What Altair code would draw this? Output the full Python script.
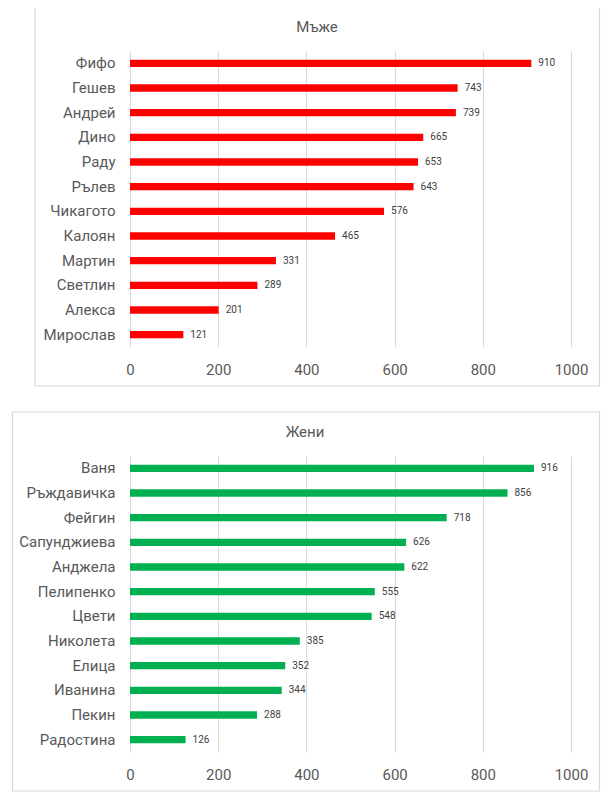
import altair as alt
import pandas as pd

men_names = ["Фифо", "Гешев", "Андрей", "Дино", "Раду", "Рълев", "Чикагото",
             "Калоян", "Мартин", "Светлин", "Алекса", "Мирослав"]
men_values = [910, 743, 739, 665, 653, 643, 576, 465, 331, 289, 201, 121]

women_names = ["Ваня", "Ръждавичка", "Фейгин", "Сапунджиева", "Анджела", "Пелипенко",
               "Цвети", "Николета", "Елица", "Иванина", "Пекин", "Радостина"]
women_values = [916, 856, 718, 626, 622, 555, 548, 385, 352, 344, 288, 126]

x_ticks = [0, 200, 400, 600, 800, 1000]

W, H = 441, 296
FONT = "Roboto"
GRAY = "#595959"


def panel(names, values, title, color, frame_left, title_x):
    df = pd.DataFrame({"name": names, "value": values})
    base = alt.Chart(df)
    x = alt.X(
        "value:Q",
        scale=alt.Scale(domain=[0, 1000], nice=False),
        axis=alt.Axis(values=x_ticks, title=None, ticks=False, domain=False,
                      grid=True, gridColor="#D9D9D9", labelPadding=15,
                      labelFontSize=15, labelColor=GRAY, labelFont=FONT,
                      labelFlush=False, format="d"),
    )
    y = alt.Y(
        "name:N",
        sort=None,
        scale=alt.Scale(paddingInner=0.7, paddingOuter=0.35),
        axis=alt.Axis(title=None, ticks=False, domain=False, grid=False,
                      labelPadding=15, labelFontSize=15, labelColor=GRAY,
                      labelFont=FONT),
    )
    bars = base.mark_bar(color=color).encode(x=x, y=y)
    labels = base.mark_text(
        align="left", baseline="middle", dx=7, font=FONT, fontSize=10, color="#404040"
    ).encode(x="value:Q", y=alt.Y("name:N", sort=None), text="value:Q")
    frame = alt.Chart(alt.Data(values=[{"k": 1}])).mark_rect(
        fillOpacity=0, stroke="#D9D9D9", strokeWidth=1.2
    ).encode(
        x=alt.value(frame_left), x2=alt.value(469.5),
        y=alt.value(-44), y2=alt.value(335),
    )
    ttl = alt.Chart(alt.Data(values=[{"t": title}])).mark_text(
        align="center", baseline="middle", font=FONT, fontSize=15, color=GRAY
    ).encode(x=alt.value(title_x), y=alt.value(-24), text="t:N")
    return alt.layer(frame, bars, labels, ttl).properties(width=W, height=H)


top = panel(men_names, men_values, "Мъже", "#FF0000", -95, 187)
bottom = panel(women_names, women_values, "Жени", "#00B050", -117.5, 175)

chart = alt.vconcat(top, bottom, spacing=24).properties(
    padding={"left": 3, "top": -2, "right": 0, "bottom": 0}
).configure_view(stroke=None)

chart.save("out.html", embed_options={"renderer": "svg", "actions": False})
